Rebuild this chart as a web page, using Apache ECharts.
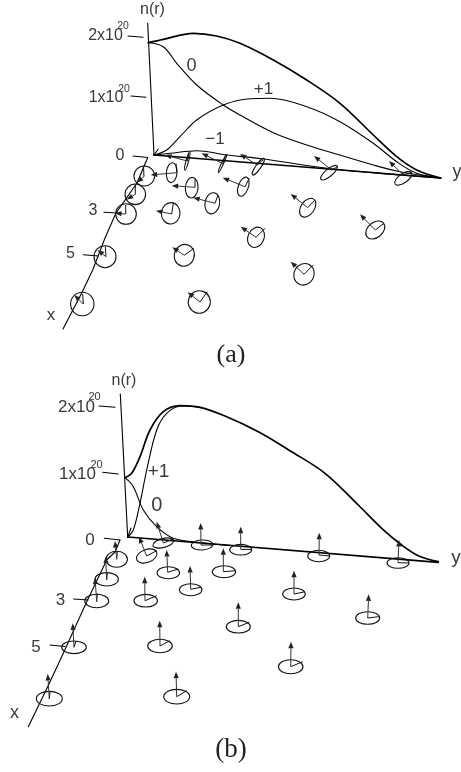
<!DOCTYPE html>
<html><head><meta charset="utf-8">
<style>html,body{margin:0;padding:0;background:#fff}#c{width:461px;height:772px}</style>
<script src="https://cdn.jsdelivr.net/npm/echarts@6/dist/echarts.min.js"></script>
</head><body><div id="c"></div>
<script>
// Panel (a): profile curves, read in picture units
const aTotal=[[148.3,42.7],[163.3,39.3],[193.3,33.3],[216.7,36],[240,43.3],[273.3,60],[306.7,80],[340,103.3],[373.3,135],[396.7,156.7],[416.7,170],[440.7,178]];
const aZero=[[148.3,42.7],[163.3,46.7],[176.7,63.3],[196.7,85],[223.3,105],[240,115],[273.3,132.7],[306.7,145],[340,155],[373.3,165],[400,171.7],[440.7,178]];
const aPlus=[[154,155],[166.7,150],[180,136.7],[196.7,120],[223.3,105],[250,98.8],[270,98.3],[306.7,106.7],[340,121.7],[373.3,143.3],[396.7,161.7],[416.7,173.3],[440.7,178]];
const aMinus=[[154,155],[170,153.3],[196.7,150.7],[226.7,155],[260,158.5],[333,169],[400,175],[440.7,178]];
const aBase=[[154,155],[440.7,178]];
const aAxes=[
 [[147.7,23.3],[154,155]],[[154,155],[158.3,149]],
 [[147.7,157.5],[137,183],[116,213],[105,238],[92.7,270],[81.7,293],[63,329]],
 [[128,36],[143,37.3]],[[131,96],[146,97.3]],[[133,156],[147.7,157.5]],[[104,212.3],[121.7,213.3]],[[83.3,254.7],[98.3,256]]
];
// Panel (a) disks: cx,cy,rx,ry,tilt, base x,y, arrow tip x,y, spoke x,y
const aDisks=[
[144.3,176,10.3,10,0,144,176.5,136.7,182.5,143.5,166.5],
[135.3,194.3,10.3,10.3,0,135.3,194.3,126.7,199.5,135.3,185],
[126,214,10.3,10.3,0,125.7,214,115,213.3,125.7,205],
[105,256.7,11,11,0,106,256.7,97.7,250,105.3,246.7],
[82.3,304,11.7,11.7,0,83.3,304,74.3,295,82.7,294],
[171.7,172.7,5.3,10,5,176.7,172.7,150.7,175,176,163.5],
[191.7,187.7,6.3,10.3,5,195,187.3,171.7,185.7,195,178.5],
[212.3,203.3,7.3,10.7,10,215,203.3,193.3,197.7,218,195],
[170.7,213.3,9.3,10.7,4,171.7,214,156,210.7,173.3,203.3],
[184.3,255.3,10,11,20,184.3,255.3,172.3,247.3,194,248.3],
[199.3,302,11,11.3,20,200,302,187.7,292.3,207.3,291.7],
[243.3,186.7,5,10,20,245,186.7,222.7,177.7,249.3,178.3],
[307.7,207.7,6.7,10.5,35,307.7,207.7,290.7,194,315,200],
[256,237.3,8,10.5,25,256,237.3,240.7,226.7,265,228.3],
[375.3,230,7.5,10.7,50,375.3,230,360,214.3,384,223.3],
[304,274.3,10,11,30,304,274.3,290.7,261.7,313.3,265],
[187.3,161,1.3,9.5,15,187.3,161,165,155,189,153],
[222.5,163.5,1,10,25,222.7,163.5,201.7,153.3,226,155],
[258.3,166.7,2.5,10,35,257,165,240,154,263,160],
[329,172.7,3.7,10.5,50,331.7,170,314,156,337,167],
[403.3,178.3,4.5,10,55,403.3,175,389,161,411,172.5]
];
// Panel (b): profile curves
const bTotal=[[125,477.7],[131.7,473.3],[140,456.7],[150,430],[163.3,411.7],[180,405.7],[200,407.3],[225,416],[258.3,431.7],[291.7,451.7],[325,473.3],[358.3,505],[381.7,528.3],[401.7,545],[418.3,555.7],[438.3,561.7]];
const bZero=[[125,477.7],[133.3,486.7],[143.3,510],[156.7,526.7],[173.3,538.3],[200,542.5],[230,545.5]];
const bPlus=[[127.7,537],[133.3,530],[140,503.3],[146.7,470],[156.7,430],[166.7,413.3],[181.7,406],[200,407.3]];
const bBase=[[127.7,537],[438.3,562.3]];
const bAxes=[
 [[120.3,394],[127.7,537]],[[127.7,537],[131,528]],
 [[120,540],[115,552],[106.7,560],[86.7,601.7],[63.3,653.3],[47.7,686.7],[28.3,726.7]],
 [[99,406],[115,407.3]],[[102.7,472.3],[118.3,474]],[[104.3,538.3],[120,540]],[[73.7,599],[88,600]],[[50,645],[65,646.5]]
];
const bDisks=[
[116.7,559.3,10.7,8,0,116.7,559.3,115,541,117.3,551.7],
[106.7,579.3,11.7,6.7,0,106.7,580,105.7,556.7,107.3,572.7],
[96.7,601,12,6.7,0,96.7,601.7,95,577.7,97.3,593.3],
[74,647.3,12.3,6.3,0,74,647.3,72.7,623.3,76,641],
[49.3,698.7,13,7.3,0,49.3,699,47.7,674,50,691.7],
[145.7,600.7,11.7,6.3,0,145,600.7,144.7,576.7,156.7,595.7],
[160,646,12.3,6.7,0,160,646,159.7,620.7,170,640.7],
[176.7,696.7,13,7.3,0,176.7,696.7,176,671.7,186.7,690.7],
[168.3,572.7,11.3,6,0,167.7,572.3,166.7,550,178.3,569],
[190.7,589.7,11.3,6,0,190.7,589.3,190,566,201,587.3],
[146.7,556,10.7,6.5,-20,146.7,556,139,536.7,156.7,550.7],
[163.3,543,10.7,4.5,-14,163.3,543,156.7,521.7,173.3,539],
[202,545,10.7,5,-3,201,545,200.7,523,212.3,545],
[224,571.7,11.7,6,0,223.3,571.7,223.3,548.3,235.7,570.7],
[240.7,549.7,11,5.3,0,240.7,549.3,240.7,526.7,251.5,549.5],
[318.7,556,11,5.7,0,319,555,319.3,532.7,330,556],
[398,563,11,5.3,0,398,562.7,399,540,409,563],
[294,594,11.3,6,0,294,594,294,570.7,305,591.7],
[238.3,626.7,12,6.3,0,238.3,626.7,238.3,602.3,249.3,622.3],
[367.7,618,12,6.3,0,367.7,618,368.7,594.3,379,616.7],
[290.7,666.7,12.3,7,0,290.7,666.7,291,641.7,302.7,661.7]
];
// text, x, y, size
const sansLabels=[
['n(r)',152.5,10,16],['2x10',105.5,36,16],['20',123,26,10.5],['1x10',106,98,16],['20',124,89,10.5],
['0',120,156,16],['0',191.5,66,18],['+1',263.5,89,17],['−1',215,139,17],['y',457,172,18],['3',93,211,16],['5',70.5,254,16],['x',51,315,17],
['n(r)',124,381,16],['2x10',76.5,407.5,17],['20',94.5,397,11],['1x10',77.5,474,17],['20',96.5,465,11],
['+1',158.5,471.7,19],['0',156.7,505.7,20],['0',90,540.7,17],['y',456,558,19],['3',60.5,600.7,17],['5',36,647.3,17],['x',14.5,713,18]
];
const serifLabels=[['(a)',231,355,26],['(b)',231,750,27]];

const lineS=(d,w,smooth)=>({type:'line',data:d,smooth:smooth?0.35:false,showSymbol:false,symbol:'none',silent:true,
  lineStyle:{color:'#000',width:w,cap:'round',join:'round'},z:2});

function diskItem(params,api){
  const v=k=>api.value(k);
  const c=api.coord([v(0),v(1)]), b=api.coord([v(5),v(6)]), t=api.coord([v(7),v(8)]), s=api.coord([v(9),v(10)]);
  const dx=t[0]-b[0], dy=t[1]-b[1], L=Math.hypot(dx,dy)||1, ux=dx/L, uy=dy/L;
  const hl=6.5, hw=2.6, bx=t[0]-ux*hl, by=t[1]-uy*hl;
  const st={stroke:'#111',fill:'none',lineWidth:1};
  return {type:'group',children:[
    {type:'ellipse',shape:{cx:c[0],cy:c[1],rx:v(2),ry:v(3)},originX:c[0],originY:c[1],rotation:-v(4)*Math.PI/180,style:Object.assign({},st,{lineWidth:1.1})},
    {type:'line',shape:{x1:b[0],y1:b[1],x2:s[0],y2:s[1]},style:st},
    {type:'line',shape:{x1:b[0],y1:b[1],x2:bx,y2:by},style:Object.assign({},st,{stroke:'#333'})},
    {type:'polygon',shape:{points:[[t[0],t[1]],[bx-uy*hw,by+ux*hw],[bx+uy*hw,by-ux*hw]]},style:{fill:'#222',stroke:'none'}}
  ]};
}
function textItem(font,color){return function(params,api){
  const p=api.coord([api.value(1),api.value(2)]);
  return {type:'text',style:{x:p[0],y:p[1],text:api.value(0),fontFamily:font,fontSize:api.value(3),fill:color,align:'center',verticalAlign:'middle'}};
};}
const series=[];
[aTotal,bTotal].forEach(d=>series.push(lineS(d,1.7,true)));
[aZero,aPlus,aMinus,bZero,bPlus].forEach(d=>series.push(lineS(d,1.1,true)));
series.push(lineS(aBase,1.4,false),lineS(bBase,1.7,false));
aAxes.concat(bAxes).forEach(d=>series.push(lineS(d,1.1,false)));
series.push({type:'custom',renderItem:diskItem,data:aDisks.concat(bDisks),silent:true,z:3,encode:{x:0,y:1}});
series.push({type:'custom',renderItem:textItem('Liberation Sans','#3a3a3a'),data:sansLabels,silent:true,z:4,encode:{x:1,y:2},dimensions:[{type:'ordinal'},'x','y','s']});
series.push({type:'custom',renderItem:textItem('Liberation Serif','#222'),data:serifLabels,silent:true,z:4,encode:{x:1,y:2},dimensions:[{type:'ordinal'},'x','y','s']});

const chart=echarts.init(document.getElementById('c'),null,{renderer:'canvas'});
chart.setOption({animation:false,backgroundColor:'#fff',tooltip:{show:false},legend:{show:false},
  grid:{left:0,right:0,top:0,bottom:0},
  xAxis:{type:'value',min:0,max:461,show:false},
  yAxis:{type:'value',min:0,max:772,inverse:true,show:false},
  series});
</script></body></html>
